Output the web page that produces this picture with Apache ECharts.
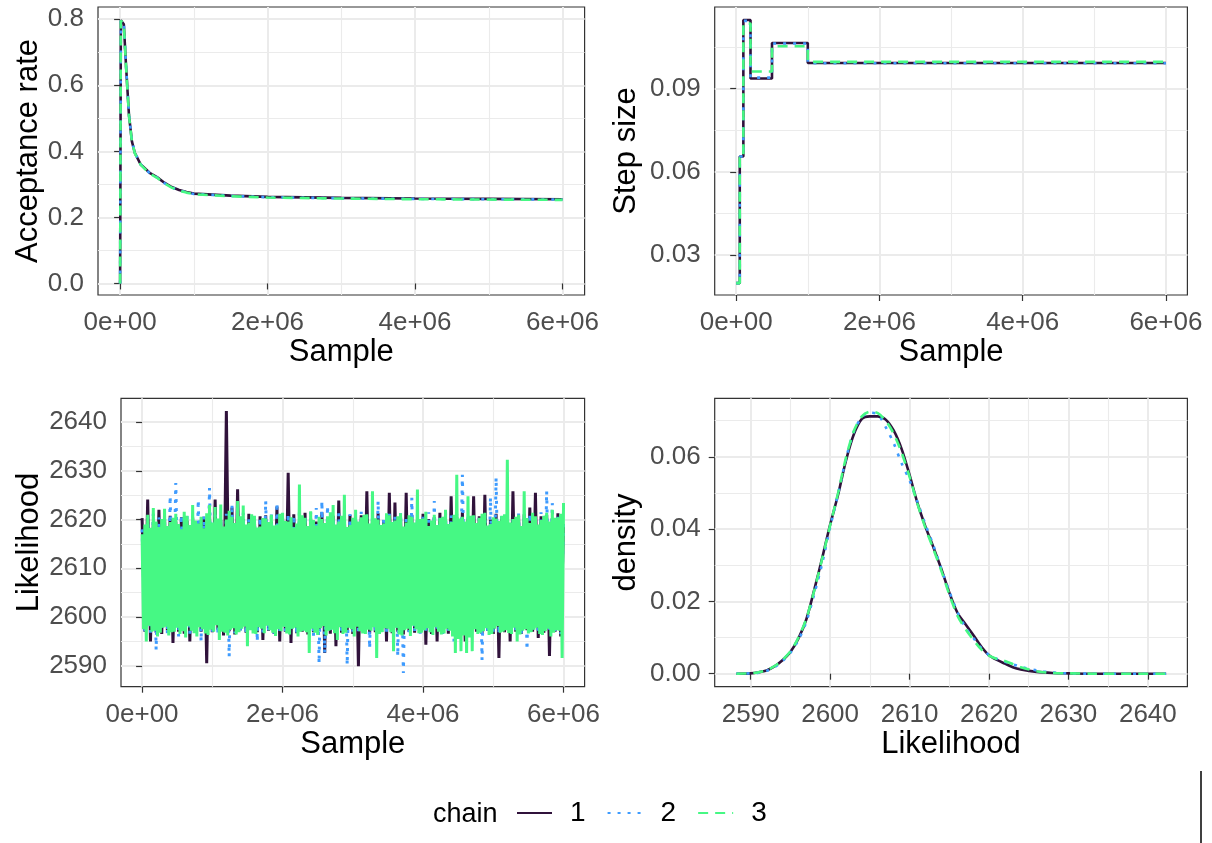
<!DOCTYPE html>
<html>
<head>
<meta charset="utf-8">
<script src="https://cdn.jsdelivr.net/npm/echarts@6/dist/echarts.min.js"></script>
<style>
  html, body { margin: 0; padding: 0; background: #ffffff; }
  #chart { width: 1212px; height: 843px; }
</style>
</head>
<body>
<div id="chart"></div>
<script>
// ---------------- data ----------------
const chainNames = ['1', '2', '3'];
const chainColors = ['#30123B', '#3E9BFE', '#46F884'];

// Acceptance rate per sample (running mean after the start)
const accSample = [0, 10000, 50000, 80000, 120000, 160000, 200000, 280000, 400000, 500000,
  600000, 700000, 800000, 900000, 1000000, 1500000, 2000000, 3000000, 4000000, 5000000, 6000000];
const acc1 = [0, 0.797, 0.785, 0.660, 0.510, 0.430, 0.395, 0.360, 0.335, 0.322,
  0.305, 0.292, 0.283, 0.277, 0.272, 0.266, 0.262, 0.259, 0.257, 0.256, 0.255];
const acc2 = [0, 0.797, 0.786, 0.662, 0.512, 0.431, 0.396, 0.360, 0.334, 0.321,
  0.304, 0.291, 0.282, 0.276, 0.271, 0.265, 0.261, 0.258, 0.256, 0.255, 0.254];
const acc3 = [0, 0.796, 0.784, 0.658, 0.508, 0.429, 0.394, 0.359, 0.333, 0.320,
  0.303, 0.290, 0.281, 0.275, 0.270, 0.264, 0.260, 0.257, 0.255, 0.254, 0.253];

// Adapted step size (value holds until the next adaptation point)
const stepSample = [0, 50000, 100000, 200000, 500000, 1000000, 6000000];
const step1 = [0.0198, 0.0655, 0.1148, 0.0937, 0.1065, 0.0993, 0.0993];
const step2 = [0.0198, 0.0655, 0.1145, 0.0940, 0.1063, 0.0992, 0.0992];
const step3 = [0.0198, 0.0650, 0.1135, 0.0962, 0.1053, 0.0997, 0.0997];

// Likelihood trace. Chains 1 and 2 thinned every 40000 samples, chain 3 every 20000.
const traceStep12 = 40000;
const traceStep3 = 20000;
const trace1 = [
  2620.3, 2597.0, 2624.1, 2595.0, 2619.5, 2596.8, 2622.0, 2596.5, 2620.2, 2597.3,
  2620.8, 2594.7, 2619.6, 2597.0, 2620.5, 2596.6, 2619.8, 2595.0, 2620.4, 2597.2,
  2619.7, 2597.0, 2620.6, 2590.5, 2621.0, 2596.9, 2624.1, 2597.4, 2619.9, 2596.2,
  2642.3, 2597.1, 2622.5, 2596.4, 2626.2, 2597.3, 2620.1, 2596.8, 2621.2, 2597.5,
  2619.8, 2596.9, 2620.7, 2595.3, 2620.9, 2597.2, 2619.6, 2596.5, 2622.7, 2595.0,
  2620.3, 2597.0, 2629.6, 2594.7, 2621.1, 2596.7, 2619.7, 2597.0, 2621.4, 2596.4,
  2620.2, 2596.9, 2619.6, 2597.3, 2621.5, 2592.6, 2620.0, 2596.6, 2620.8, 2594.0,
  2623.9, 2596.8, 2620.4, 2597.1, 2621.0, 2596.5, 2619.8, 2589.9, 2620.9, 2597.0,
  2625.8, 2596.6, 2620.0, 2596.9, 2621.3, 2597.4, 2619.9, 2595.0, 2625.5, 2596.7,
  2623.5, 2597.0, 2620.5, 2596.4, 2625.5, 2597.0, 2621.0, 2596.8, 2619.8, 2597.2,
  2621.2, 2594.3, 2620.1, 2596.5, 2620.5, 2595.0, 2621.4, 2597.1, 2619.9, 2596.6,
  2624.8, 2597.3, 2620.6, 2596.8, 2621.5, 2595.0, 2620.2, 2596.9, 2624.8, 2597.0,
  2620.7, 2596.5, 2625.1, 2597.2, 2620.0, 2596.5, 2621.2, 2591.6, 2620.6, 2596.9,
  2619.9, 2595.0, 2625.8, 2597.0, 2620.8, 2596.6, 2621.1, 2597.3, 2622.5, 2597.0,
  2625.5, 2595.7, 2620.7, 2596.8, 2621.0, 2592.0, 2620.3, 2597.0, 2621.3, 2596.0,
  2619.0
];
const trace2 = [
  2618.0, 2597.0, 2620.6, 2596.8, 2621.2, 2593.3, 2620.5, 2597.3, 2619.8, 2596.5,
  2624.8, 2597.1, 2627.5, 2596.0, 2620.9, 2597.2, 2621.3, 2596.6, 2620.0, 2597.0,
  2624.0, 2595.0, 2620.7, 2596.9, 2626.5, 2597.0, 2621.0, 2596.4, 2620.3, 2597.1,
  2621.2, 2591.9, 2623.1, 2596.7, 2620.6, 2597.0, 2621.4, 2596.5, 2620.2, 2597.2,
  2621.0, 2595.0, 2620.4, 2596.8, 2623.8, 2597.0, 2621.5, 2596.6, 2623.4, 2597.1,
  2620.5, 2596.9, 2621.2, 2597.0, 2620.8, 2596.4, 2622.0, 2597.2, 2620.7, 2596.8,
  2621.5, 2596.0, 2622.4, 2590.5, 2623.8, 2592.6, 2622.8, 2596.9, 2620.4, 2597.0,
  2621.3, 2596.6, 2620.9, 2590.2, 2621.1, 2597.0, 2620.2, 2596.5, 2621.6, 2597.1,
  2620.6, 2593.6, 2621.0, 2596.8, 2623.8, 2597.0, 2620.5, 2596.4, 2621.2, 2597.2,
  2620.8, 2592.0, 2621.4, 2588.5, 2620.3, 2596.9, 2624.5, 2597.0, 2621.1, 2596.6,
  2620.6, 2597.1, 2621.5, 2596.8, 2623.8, 2597.0, 2620.4, 2596.5, 2621.7, 2597.2,
  2620.9, 2595.0, 2621.2, 2596.7, 2629.2, 2597.0, 2620.6, 2596.6, 2621.3, 2597.1,
  2620.5, 2591.2, 2621.0, 2596.9, 2624.5, 2597.0, 2628.6, 2596.5, 2620.8, 2597.2,
  2621.4, 2596.8, 2620.3, 2597.0, 2621.6, 2596.4, 2620.9, 2593.3, 2621.2, 2597.1,
  2620.7, 2596.6, 2621.5, 2597.0, 2625.8, 2596.8, 2623.4, 2597.1, 2620.6, 2596.5,
  2619.0
];
const trace3 = [
  2617.0, 2597.5, 2619.0, 2595.0, 2621.0, 2598.2, 2618.3, 2597.0, 2622.4, 2597.2, 2619.6, 2596.0,
  2618.5, 2596.8, 2620.1, 2597.8, 2622.2, 2598.0, 2618.7, 2596.2, 2619.5, 2596.9, 2620.4, 2597.0,
  2621.2, 2597.8, 2619.1, 2596.5, 2618.0, 2597.1, 2621.6, 2595.8, 2620.8, 2598.1, 2618.9, 2597.2,
  2623.0, 2596.7, 2619.8, 2596.0, 2619.2, 2597.9, 2620.6, 2597.5, 2618.2, 2596.6, 2621.3, 2596.3,
  2623.0, 2597.4, 2619.4, 2597.0, 2622.6, 2598.3, 2620.2, 2595.3, 2623.1, 2597.0, 2618.6, 2596.8,
  2620.0, 2596.2, 2621.8, 2597.4, 2620.6, 2597.7, 2619.3, 2596.4, 2623.8, 2596.9, 2620.7, 2597.6,
  2622.9, 2598.0, 2619.0, 2594.0, 2619.4, 2597.3, 2621.1, 2596.6, 2620.8, 2596.5, 2618.4, 2597.9,
  2618.6, 2597.6, 2620.3, 2596.7, 2620.2, 2598.2, 2619.5, 2597.3, 2621.0, 2596.8, 2618.8, 2596.1,
  2619.0, 2597.5, 2621.2, 2597.1, 2621.4, 2598.0, 2619.7, 2596.6, 2619.6, 2596.4, 2620.5, 2597.6,
  2618.4, 2597.8, 2619.2, 2596.0, 2627.2, 2597.0, 2620.9, 2597.2, 2620.4, 2596.9, 2618.7, 2592.6,
  2621.7, 2597.6, 2619.9, 2596.8, 2618.8, 2596.3, 2620.6, 2597.7, 2620.1, 2598.1, 2619.3, 2596.2,
  2620.7, 2597.2, 2621.5, 2597.4, 2623.0, 2596.7, 2619.0, 2595.3, 2619.6, 2597.9, 2620.8, 2596.5,
  2625.1, 2596.8, 2618.5, 2597.8, 2618.9, 2597.5, 2620.4, 2596.0, 2622.0, 2598.0, 2619.6, 2597.1,
  2620.5, 2596.6, 2621.0, 2596.5, 2621.1, 2597.4, 2619.2, 2597.2, 2625.8, 2597.9, 2620.3, 2591.6,
  2620.0, 2596.5, 2618.9, 2596.9, 2619.2, 2597.7, 2621.3, 2597.6, 2620.9, 2596.9, 2619.5, 2593.0,
  2619.8, 2597.8, 2620.7, 2596.4, 2621.3, 2596.2, 2618.6, 2597.3, 2619.4, 2597.6, 2620.9, 2596.1,
  2620.6, 2598.2, 2619.4, 2597.5, 2626.2, 2596.7, 2620.1, 2596.8, 2620.2, 2597.3, 2621.6, 2597.7,
  2618.7, 2596.9, 2619.8, 2596.3, 2621.0, 2597.9, 2618.9, 2597.0, 2620.3, 2596.4, 2620.6, 2596.6,
  2622.0, 2597.6, 2619.1, 2597.2, 2619.5, 2596.0, 2621.0, 2592.6, 2629.2, 2595.5, 2620.2, 2593.0,
  2620.6, 2596.2, 2619.6, 2592.6, 2624.8, 2595.8, 2620.8, 2593.0, 2620.9, 2597.5, 2619.3, 2596.5,
  2620.4, 2596.8, 2621.2, 2597.1, 2621.4, 2597.7, 2618.8, 2596.3, 2619.1, 2596.5, 2620.5, 2597.6,
  2620.2, 2598.1, 2619.7, 2596.8, 2620.8, 2597.0, 2621.1, 2597.3, 2632.3, 2596.7, 2619.4, 2596.5,
  2620.1, 2597.8, 2620.6, 2595.0, 2621.0, 2596.4, 2618.7, 2597.2, 2625.8, 2597.5, 2620.3, 2596.6,
  2619.3, 2596.9, 2621.4, 2597.4, 2620.7, 2597.8, 2619.0, 2596.5, 2619.9, 2596.3, 2620.8, 2597.1,
  2621.4, 2597.6, 2619.6, 2596.0, 2622.0, 2596.8, 2620.4, 2597.3, 2620.5, 2597.2, 2621.2, 2591.6,
  2623.4
];

// Kernel density of the likelihood per chain
const densX = [2588.2, 2590, 2591, 2592, 2593, 2594, 2595, 2596, 2597, 2598,
  2599, 2600, 2601, 2602, 2603, 2604, 2605, 2606, 2607, 2608,
  2609, 2610, 2611, 2612, 2613, 2614, 2615, 2616, 2617, 2618,
  2619, 2620, 2621, 2622, 2623, 2624, 2626, 2628, 2630, 2633, 2636, 2642.3];
const dens1 = [0, 0.0001, 0.0004, 0.0009, 0.0020, 0.0037, 0.0060, 0.0097, 0.0150, 0.0232,
  0.0320, 0.0412, 0.0495, 0.0590, 0.0663, 0.0705, 0.0712, 0.0712, 0.0703, 0.0673,
  0.0622, 0.0550, 0.0472, 0.0407, 0.0350, 0.0290, 0.0225, 0.0170, 0.0138, 0.0108,
  0.0076, 0.0051, 0.0038, 0.0028, 0.0018, 0.0012, 0.0005, 0.0002, 0.0001, 0, 0, 0];
const dens2 = [0, 0.0001, 0.0003, 0.0008, 0.0018, 0.0035, 0.0058, 0.0093, 0.0143, 0.0220,
  0.0305, 0.0405, 0.0497, 0.0595, 0.0670, 0.0710, 0.0722, 0.0718, 0.0682, 0.0638,
  0.0582, 0.0535, 0.0475, 0.0413, 0.0355, 0.0290, 0.0228, 0.0172, 0.0130, 0.0100,
  0.0072, 0.0052, 0.0041, 0.0033, 0.0026, 0.0019, 0.0009, 0.0003, 0.0001, 0, 0, 0];
const dens3 = [0, 0.0001, 0.0004, 0.0010, 0.0021, 0.0038, 0.0062, 0.0099, 0.0152, 0.0230,
  0.0318, 0.0410, 0.0500, 0.0598, 0.0672, 0.0712, 0.0725, 0.0721, 0.0700, 0.0664,
  0.0612, 0.0545, 0.0470, 0.0403, 0.0345, 0.0285, 0.0220, 0.0162, 0.0125, 0.0095,
  0.0068, 0.0050, 0.0041, 0.0035, 0.0027, 0.0018, 0.0007, 0.0002, 0.0001, 0, 0, 0];

// Axis breaks and their labels
const sampleTicks = [0, 2000000, 4000000, 6000000];
const sampleTickLabels = ['0e+00', '2e+06', '4e+06', '6e+06'];
const sampleMinor = [1000000, 3000000, 5000000];
const accTicks = [0, 0.2, 0.4, 0.6, 0.8];
const accTickLabels = ['0.0', '0.2', '0.4', '0.6', '0.8'];
const accMinor = [0.1, 0.3, 0.5, 0.7];
const stepTicks = [0.03, 0.06, 0.09];
const stepTickLabels = ['0.03', '0.06', '0.09'];
const stepMinor = [0.045, 0.075, 0.105];
const likTicks = [2590, 2600, 2610, 2620, 2630, 2640];
const likTickLabels = ['2590', '2600', '2610', '2620', '2630', '2640'];
const likMinor = [2595, 2605, 2615, 2625, 2635];
const densTicks = [0, 0.02, 0.04, 0.06];
const densTickLabels = ['0.00', '0.02', '0.04', '0.06'];
const densMinor = [0.01, 0.03, 0.05, 0.07];

// ---------------- chart ----------------
const FONT = '"Liberation Sans", Arial, Helvetica, sans-serif';
const GRID_MAJOR = '#EBEBEB';
const LINE_W = 2.6;
const dashFor = ['solid', [3, 7], [10, 7]];

function labelOf(ticks, labels) {
  return function (v) {
    for (let i = 0; i < ticks.length; i++) {
      if (Math.abs(ticks[i] - v) < 1e-9 * Math.max(1, Math.abs(v))) return labels[i];
    }
    return '';
  };
}

const panels = [
  { box: [98, 7, 486.6, 288], x: [-300000, 6300000], y: [-0.035, 0.837],
    xt: sampleTicks, xl: sampleTickLabels, xm: sampleMinor,
    yt: accTicks, yl: accTickLabels, ym: accMinor,
    xName: 'Sample', yName: 'Acceptance rate', yGap: 50 },
  { box: [714.7, 7, 472.7, 288], x: [-300000, 6300000], y: [0.0155, 0.1195],
    xt: sampleTicks, xl: sampleTickLabels, xm: sampleMinor,
    yt: stepTicks, yl: stepTickLabels, ym: stepMinor,
    xName: 'Sample', yName: 'Step size', yGap: 73 },
  { box: [121, 398.3, 463.6, 288.4], x: [-300000, 6300000], y: [2585.7, 2644.9],
    xt: sampleTicks, xl: sampleTickLabels, xm: sampleMinor,
    yt: likTicks, yl: likTickLabels, ym: likMinor,
    xName: 'Sample', yName: 'Likelihood', yGap: 73 },
  { box: [714.7, 398.3, 472.7, 288.4], x: [2585.47, 2644.98], y: [-0.0036, 0.0762],
    xt: likTicks, xl: likTickLabels, xm: likMinor,
    yt: densTicks, yl: densTickLabels, ym: densMinor,
    xName: 'Likelihood', yName: 'density', yGap: 73 }
];

const grids = [], xAxes = [], yAxes = [];
panels.forEach(function (p, k) {
  grids.push({
    left: p.box[0], top: p.box[1], width: p.box[2], height: p.box[3],
    show: true, borderColor: '#333333', borderWidth: 1.2, backgroundColor: '#ffffff',
    containLabel: false, outerBoundsMode: 'none'
  });
  const tickStyle = { show: true, inside: false, length: 6, lineStyle: { color: '#333333', width: 1.2 } };
  const labelStyle = { color: '#4D4D4D', fontSize: 26, fontFamily: FONT };
  const nameStyle = { fontSize: 31, color: '#000000', fontFamily: FONT };
  xAxes.push({
    gridIndex: k, type: 'value', min: p.x[0], max: p.x[1], position: 'bottom',
    axisLine: { show: false },
    axisTick: Object.assign({ customValues: p.xt }, tickStyle),
    axisLabel: Object.assign({ customValues: p.xt, formatter: labelOf(p.xt, p.xl), margin: 15 }, labelStyle),
    splitLine: { show: true, lineStyle: { color: GRID_MAJOR, width: 2 } },
    name: p.xName, nameLocation: 'middle', nameGap: 42, nameTextStyle: nameStyle
  });
  xAxes.push({
    gridIndex: k, type: 'value', min: p.x[0], max: p.x[1], position: 'bottom',
    axisLine: { show: false },
    axisTick: { show: false, customValues: p.xm },
    axisLabel: { show: false, customValues: p.xm },
    splitLine: { show: true, lineStyle: { color: GRID_MAJOR, width: 1.1 } }
  });
  yAxes.push({
    gridIndex: k, type: 'value', min: p.y[0], max: p.y[1], position: 'left',
    axisLine: { show: false },
    axisTick: Object.assign({ customValues: p.yt }, tickStyle),
    axisLabel: Object.assign({ customValues: p.yt, formatter: labelOf(p.yt, p.yl), margin: 14 }, labelStyle),
    splitLine: { show: true, lineStyle: { color: GRID_MAJOR, width: 2 } },
    name: p.yName, nameLocation: 'middle', nameGap: p.yGap, nameRotate: 90, nameTextStyle: nameStyle
  });
  yAxes.push({
    gridIndex: k, type: 'value', min: p.y[0], max: p.y[1], position: 'left',
    axisLine: { show: false },
    axisTick: { show: false, customValues: p.ym },
    axisLabel: { show: false, customValues: p.ym },
    splitLine: { show: true, lineStyle: { color: GRID_MAJOR, width: 1.1 } }
  });
});

function pairs(xs, ys) { return ys.map(function (v, i) { return [xs[i], v]; }); }
function thinned(values, step) { return values.map(function (_, i) { return i * step; }); }

function lineSeries(k, c, data, extra) {
  return Object.assign({
    type: 'line', name: chainNames[c], xAxisIndex: 2 * k, yAxisIndex: 2 * k,
    data: data, symbol: 'none', showSymbol: false, animation: false, silent: true,
    color: chainColors[c],
    lineStyle: { color: chainColors[c], width: LINE_W, type: dashFor[c] }
  }, extra || {});
}

const accs = [acc1, acc2, acc3];
const steps = [step1, step2, step3];
const traces = [trace1, trace2, trace3];
const traceSteps = [traceStep12, traceStep12, traceStep3];
const dens = [dens1, dens2, dens3];
// Overplotted trace: thousands of overlapping strokes read as a solid band, so
// chains 1 and 3 are stroked solid there and chain 2 keeps its dotted look.
const traceDash = ['solid', [3, 6], 'solid'];
const series = [];
[0, 1, 2].forEach(function (c) { series.push(lineSeries(0, c, pairs(accSample, accs[c]))); });
[0, 1, 2].forEach(function (c) { series.push(lineSeries(1, c, pairs(stepSample, steps[c]), { step: 'end' })); });
[0, 1, 2].forEach(function (c) {
  series.push(lineSeries(2, c, pairs(thinned(traces[c], traceSteps[c]), traces[c]), {
    lineStyle: { color: chainColors[c], width: 3, type: traceDash[c] }
  }));
});
[0, 1, 2].forEach(function (c) { series.push(lineSeries(3, c, pairs(densX, dens[c]), { smooth: 0.3 })); });

const chart = echarts.init(document.getElementById('chart'), null, { renderer: 'canvas' });
chart.setOption({
  backgroundColor: '#ffffff',
  animation: false,
  grid: grids,
  xAxis: xAxes,
  yAxis: yAxes,
  series: series,
  legend: {
    data: chainNames, left: 516, top: 799, orient: 'horizontal', padding: 0,
    itemWidth: 35, itemHeight: 26, itemGap: 21,
    itemStyle: { opacity: 0 },
    textStyle: { fontSize: 28, color: '#000000', fontFamily: FONT, padding: [0, 0, 0, 13] },
    selectedMode: false
  },
  graphic: [
    { type: 'text', x: 433, y: 815,
      style: { text: 'chain', fontSize: 27, fontFamily: FONT, fill: '#000000', align: 'left', verticalAlign: 'middle' } },
    { type: 'line', shape: { x1: 1201, y1: 771, x2: 1201, y2: 843 },
      style: { stroke: '#000000', lineWidth: 1.5 } }
  ]
});
</script>
</body>
</html>
